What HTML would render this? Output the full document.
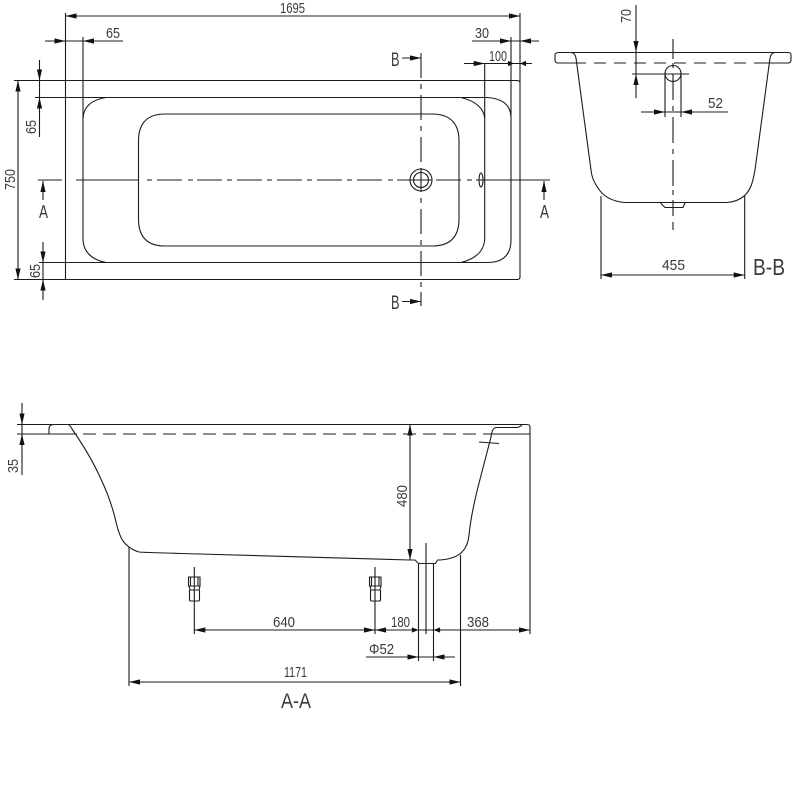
<!DOCTYPE html>
<html>
<head>
<meta charset="utf-8">
<style>
html,body{margin:0;padding:0;background:#fff;width:800px;height:800px;overflow:hidden}
svg{display:block}
.l{fill:none;stroke:#1c1c1c;stroke-width:1.1}
.t{font-family:"Liberation Sans",sans-serif;fill:#3a3a3a;font-size:15px}
</style>
</head>
<body>
<svg width="800" height="800" viewBox="0 0 800 800" xmlns="http://www.w3.org/2000/svg">
<defs><path id="a" d="M0 0L-11 -2.6L-11 2.6Z" fill="#111"/></defs>

<!-- PLAN VIEW -->
<g class="l">
<path d="M65.5 13V279.5H517Q520 279.5 520 277V13"/>
<path d="M14 80.5H517Q520 80.5 520 83"/>
<path d="M35 97.5H487Q511 99 511 118V37"/>
<path d="M511 118V240Q511 262.5 487 262.5H39"/>
<path d="M14 279.5H66"/>
<path d="M83 37V240Q84 258 106 262.5"/>
<path d="M83 118Q84 101 106 97.5"/>
<path d="M484.7 63V240Q483 257 461 262.5"/>
<path d="M484.7 118Q483 103 461 97.5"/>
<path d="M165 114H432Q459 114 459 141V219Q459 246 432 246H165Q138.5 246 138.5 219V141Q138.5 114 165 114Z"/>
<path d="M38 180H62M76 180H138.5M147 180H152M157 180H182M188 180H193M197 180H222M227 180H232M237 180H262M267 180H272M277 180H302M307 180H312M317 180H342M347 180H352M357 180H382M388 180H393M397 180H432M436 180H461M467 180H472M476 180H550"/>
<path d="M421 53V78M421 84V89M421 95V120M421 126V131M421 137V162M421 168V192M421 198V203M421 209V234M421 240V245M421 251V276M421 282V287M421 292V306"/>
<circle cx="421" cy="180" r="11"/>
<circle cx="421" cy="180" r="7.5"/>
<ellipse cx="481" cy="180" rx="2" ry="7"/>
<!-- dims -->
<path d="M65.5 16H520"/>
<path d="M45 41H123"/>
<path d="M472 41H539"/>
<path d="M464 63.5H532"/>
<path d="M39.5 60V137"/>
<path d="M18 80.5V279.5"/>
<path d="M43 242V300"/>
<path d="M43 181V200"/>
<path d="M544 181V200"/>
<path d="M402 58H421"/>
<path d="M402 301.5H421"/>
</g>
<use href="#a" transform="translate(65.5,16) rotate(180)"/>
<use href="#a" transform="translate(520,16)"/>
<use href="#a" transform="translate(65.5,41)"/>
<use href="#a" transform="translate(83,41) rotate(180)"/>
<use href="#a" transform="translate(511,41)"/>
<use href="#a" transform="translate(520,41) rotate(180)"/>
<use href="#a" transform="translate(484.7,63.5)"/>
<use href="#a" transform="translate(520,63.5) rotate(180) scale(.55,1)"/>
<use href="#a" transform="translate(514,63.5) scale(.55,1)"/>
<use href="#a" transform="translate(39.5,80.5) rotate(90)"/>
<use href="#a" transform="translate(39.5,97.5) rotate(-90)"/>
<use href="#a" transform="translate(18,80.5) rotate(-90)"/>
<use href="#a" transform="translate(18,279.5) rotate(90)"/>
<use href="#a" transform="translate(43,262.5) rotate(90)"/>
<use href="#a" transform="translate(43,279.5) rotate(-90)"/>
<use href="#a" transform="translate(43,181) rotate(-90)"/>
<use href="#a" transform="translate(544,181) rotate(-90)"/>
<use href="#a" transform="translate(421,58)"/>
<use href="#a" transform="translate(421,301.5)"/>
<g class="t">
<text x="280" y="13" textLength="25" lengthAdjust="spacingAndGlyphs">1695</text>
<text x="106" y="38" textLength="14" lengthAdjust="spacingAndGlyphs">65</text>
<text x="475" y="38" textLength="14" lengthAdjust="spacingAndGlyphs">30</text>
<text x="489" y="61" textLength="18" lengthAdjust="spacingAndGlyphs">100</text>
<text transform="translate(36,134) rotate(-90)" textLength="14" lengthAdjust="spacingAndGlyphs">65</text>
<text transform="translate(15,190) rotate(-90)" textLength="21" lengthAdjust="spacingAndGlyphs">750</text>
<text transform="translate(40,278) rotate(-90)" textLength="14" lengthAdjust="spacingAndGlyphs">65</text>
<text x="39" y="218" textLength="9" lengthAdjust="spacingAndGlyphs" style="font-size:18px">A</text>
<text x="540" y="218" textLength="9" lengthAdjust="spacingAndGlyphs" style="font-size:18px">A</text>
<text x="391" y="66" textLength="8.5" lengthAdjust="spacingAndGlyphs" style="font-size:19px">B</text>
<text x="391" y="309" textLength="8.5" lengthAdjust="spacingAndGlyphs" style="font-size:19px">B</text>
</g>

<!-- SECTION B-B -->
<g class="l">
<path d="M575 52.5H559Q555 52.5 555 55V60Q555 63 558 63H577"/>
<path d="M559 52.5H788Q791 52.5 791 55V60Q791 63 788 63H770"/>
<path d="M571 52.5Q575 53 576 58L591 170Q592 180 598 188Q606 201 625 202.5H727Q745 201 751 186Q753 181 755 170L770 58Q771 53 775 52.5"/>
<path d="M576 63H586M594 63H606M614 63H626M634 63H646M654 63H666M674 63H686M694 63H706M714 63H726M734 63H746M754 63H770"/>
<path d="M660.5 203L665 207.5H683L685 203"/>
<path d="M673 39V59M673 63V68M673 74V100M673 106V111M673 117V143M673 149V154M673 160V186M673 190V195M673 200V216M673 222V230"/>
<circle cx="673" cy="73.5" r="8"/>
<path d="M665 73V117M681 73V117"/>
<path d="M632 74H689"/>
<path d="M636 5V98"/>
<path d="M641 112H728"/>
<path d="M601 196V279M744.7 196V279"/>
<path d="M601 275H744.7"/>
</g>
<use href="#a" transform="translate(636,52) rotate(90)"/>
<use href="#a" transform="translate(636,74) rotate(-90)"/>
<use href="#a" transform="translate(665,112)"/>
<use href="#a" transform="translate(681,112) rotate(180)"/>
<use href="#a" transform="translate(601,275) rotate(180)"/>
<use href="#a" transform="translate(744.7,275)"/>
<g class="t">
<text transform="translate(631,23) rotate(-90)" textLength="14" lengthAdjust="spacingAndGlyphs">70</text>
<text x="708" y="108" textLength="15" lengthAdjust="spacingAndGlyphs">52</text>
<text x="662" y="270" textLength="23" lengthAdjust="spacingAndGlyphs">455</text>
<text x="753" y="275" textLength="32" lengthAdjust="spacingAndGlyphs" style="font-size:23px">B-B</text>
</g>

<!-- SECTION A-A -->
<g class="l">
<path d="M17 424.5H527Q530 424.5 530 427V634"/>
<path d="M49 434V429Q49 424.5 54 424.5H68Q70 425 72 429Q90 455 100 477Q111 500 116 522Q119 535 123 541Q129 549 139 552Q144 552.5 200 554L410 560"/>
<path d="M410 560H415L418.5 563.5H435.5L437.5 560H440Q455 559 462 552Q468 546 469 535Q471 515 478 487L491 437Q492 428 496 427.5H517Q520 427 522 425"/>
<path d="M494 434H530"/>
<path d="M17 434H77M83 434H96M103 434H116M123 434H136M143 434H156M163 434H176M183 434H196M203 434H216M223 434H236M243 434H256M263 434H276M283 434H296M303 434H316M323 434H336M343 434H356M363 434H376M383 434H396M403 434H416M423 434H436M443 434H456M463 434H476M483 434H496"/>
<path d="M479 442L499 443.5"/>
<path d="M22 403V475"/>
<path d="M410 424.5V560"/>
<path d="M129 547V686"/>
<path d="M460.5 555V686"/>
<path d="M129 682H460.5"/>
<path d="M194.3 567V634M375 567V634"/>
<path d="M194.3 630H530"/>
<path d="M418.5 564V661M433.5 564V661"/>
<path d="M426 543V634"/>
<path d="M366 657H455"/>
<path d="M188.5 577H200V586H188.5ZM190.5 577V586M198 577V586M189 586L190 590H199L200 586M189.5 590V600Q189.5 601 191 601H198Q199.5 601 199.5 600V590"/>
<path d="M369.5 577H381V586H369.5ZM371.5 577V586M379 577V586M370 586L371 590H380L381 586M370.5 590V600Q370.5 601 372 601H379Q380.5 601 380.5 600V590"/>
</g>
<use href="#a" transform="translate(22,424.5) rotate(90)"/>
<use href="#a" transform="translate(22,434) rotate(-90)"/>
<use href="#a" transform="translate(410,424.5) rotate(-90)"/>
<use href="#a" transform="translate(410,560) rotate(90)"/>
<use href="#a" transform="translate(129,682) rotate(180)"/>
<use href="#a" transform="translate(460.5,682)"/>
<use href="#a" transform="translate(194.3,630) rotate(180)"/>
<use href="#a" transform="translate(375,630)"/>
<use href="#a" transform="translate(375,630) rotate(180)"/>
<use href="#a" transform="translate(418.5,630) scale(.6,1)"/>
<use href="#a" transform="translate(433.5,630) rotate(180) scale(.6,1)"/>
<use href="#a" transform="translate(530,630)"/>
<use href="#a" transform="translate(418.5,657)"/>
<use href="#a" transform="translate(433.5,657) rotate(180)"/>
<g class="t">
<text transform="translate(18,473) rotate(-90)" textLength="14" lengthAdjust="spacingAndGlyphs">35</text>
<text transform="translate(407,507) rotate(-90)" textLength="22" lengthAdjust="spacingAndGlyphs">480</text>
<text x="273" y="627" textLength="22" lengthAdjust="spacingAndGlyphs">640</text>
<text x="391" y="627" textLength="19" lengthAdjust="spacingAndGlyphs">180</text>
<text x="467" y="627" textLength="22" lengthAdjust="spacingAndGlyphs">368</text>
<text x="369" y="654" textLength="25" lengthAdjust="spacingAndGlyphs">Φ52</text>
<text x="284" y="677" textLength="23" lengthAdjust="spacingAndGlyphs">1171</text>
<text x="281" y="708" textLength="30" lengthAdjust="spacingAndGlyphs" style="font-size:21px">A-A</text>
</g>
</svg>
</body>
</html>
